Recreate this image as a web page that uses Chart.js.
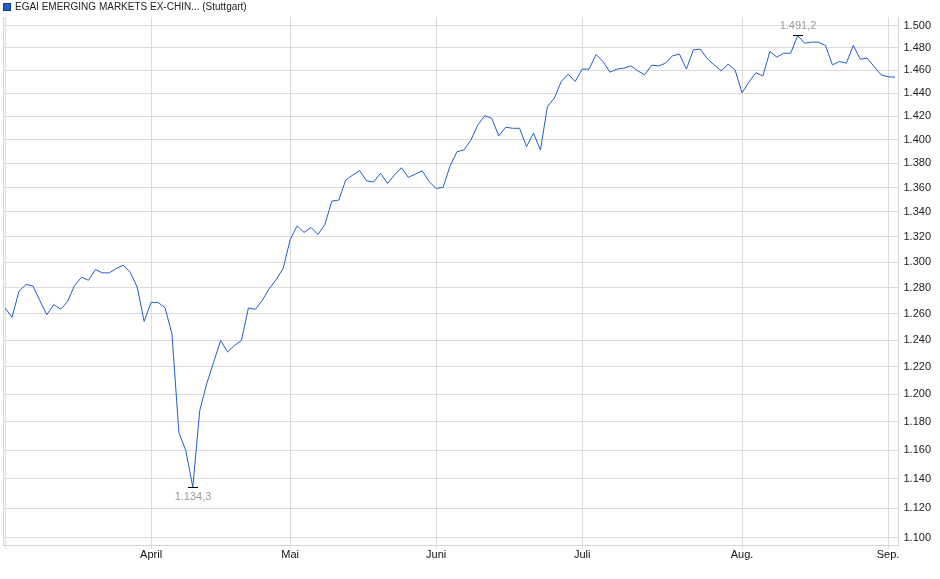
<!DOCTYPE html>
<html>
<head>
<meta charset="utf-8">
<script src="https://cdn.jsdelivr.net/npm/chart.js@4.4.1/dist/chart.umd.min.js"></script>
<style>
html, body { margin: 0; padding: 0; background: #fff; }
#wrap { width: 940px; height: 579px; }
</style>
</head>
<body>
<div id="wrap"><canvas id="kursChart"></canvas></div>
<script>

/* DATEN */

const serienName = "EGAI EMERGING MARKETS EX-CHIN... (Stuttgart)";

// Schlusskurse je Handelstag (Anfang März bis Anfang September)
const kurse = [
    1264.3, 1257.2, 1277.2, 1282.4, 1281.3, 1270.0, 1259.2, 1266.9, 1263.3, 1269.4,
    1281.8, 1288.1, 1285.7, 1294.1, 1291.5, 1291.5, 1294.9, 1297.5, 1291.8, 1280.5,
    1254.1, 1268.6, 1268.6, 1264.6, 1244.8, 1172.4, 1159.7, 1134.3, 1188.2, 1207.6,
    1223.5, 1239.7, 1231.0, 1236.0, 1239.7, 1264.3, 1263.3, 1270.2, 1279.2, 1286.3,
    1294.9, 1317.7, 1328.8, 1323.5, 1327.5, 1321.9, 1329.9, 1348.9, 1349.7, 1366.2,
    1370.3, 1373.9, 1365.6, 1364.5, 1371.8, 1363.4, 1370.3, 1376.4, 1368.4, 1371.1,
    1373.9, 1364.8, 1359.3, 1360.1, 1377.8, 1389.9, 1391.3, 1399.7, 1412.6, 1420.5,
    1418.3, 1403.2, 1410.6, 1409.7, 1409.7, 1394.1, 1405.5, 1391.3, 1428.3, 1435.7,
    1450.2, 1456.7, 1450.2, 1461.1, 1461.1, 1474.1, 1467.9, 1458.4, 1461.1, 1462.0,
    1464.0, 1459.6, 1456.1, 1464.6, 1464.0, 1466.4, 1473.0, 1474.5, 1461.1, 1478.3,
    1478.9, 1470.3, 1464.9, 1459.6, 1465.5, 1460.4, 1440.3, 1449.7, 1458.0, 1455.1,
    1476.8, 1471.8, 1475.3, 1475.3, 1491.2, 1484.3, 1485.2, 1485.2, 1482.2, 1464.9,
    1467.9, 1466.4, 1482.2, 1470.0, 1470.9, 1463.4, 1456.1, 1454.3, 1454.1
];

// erster Handelstag jedes Monats (Index in kurse)
const monatsIndex = [0, 21, 41, 62, 83, 106, 127];
const monatsLabels = ["", "April", "Mai", "Juni", "Juli", "Aug.", "Sep."];

const yTicks = [1100, 1120, 1140, 1160, 1180, 1200, 1220, 1240, 1260, 1280, 1300,
                1320, 1340, 1360, 1380, 1400, 1420, 1440, 1460, 1480, 1500];

const LINIE = "#1f5fc8";
const SCHRIFT = "11px 'Liberation Sans', Arial, sans-serif";

/* FORMAT */

function formatDe(wert, stellen){

    let teile = wert.toFixed(stellen).split(".");

    let ganz = teile[0].replace(/\B(?=(\d{3})+(?!\d))/g, ".");

    return stellen ? ganz + "," + teile[1] : ganz;

}

/* PLUGINS */

// Legende oben links (kleines Kaestchen + Name)
const legende = {

    id: "legende",

    afterDraw(chart){

        const ctx = chart.ctx;

        ctx.save();
        ctx.fillStyle = LINIE;
        ctx.fillRect(3, 3, 8, 8);
        ctx.strokeStyle = "#173f86";
        ctx.lineWidth = 1;
        ctx.strokeRect(3.5, 3.5, 7, 7);

        ctx.font = "10px 'Liberation Sans', Arial, sans-serif";
        ctx.fillStyle = "#222";
        ctx.textAlign = "left";
        ctx.textBaseline = "middle";
        ctx.fillText(serienName, 15, 7);
        ctx.restore();

    }

};

const linkerRand = {

    id: "linkerRand",

    beforeDatasetsDraw(chart){

        const ctx = chart.ctx;
        const area = chart.chartArea;

        ctx.save();
        ctx.strokeStyle = "#d4d4d4";
        ctx.lineWidth = 1;
        ctx.beginPath();
        ctx.moveTo(Math.round(area.left) + 0.5, area.top);
        ctx.lineTo(Math.round(area.left) + 0.5, area.bottom);
        ctx.stroke();
        ctx.restore();

    }

};

const extremwerte = {

    id: "extremwerte",

    afterDatasetsDraw(chart){

        const ctx = chart.ctx;
        const x = chart.scales.x;
        const y = chart.scales.y;

        let iMin = kurse.indexOf(Math.min(...kurse));
        let iMax = kurse.indexOf(Math.max(...kurse));

        ctx.save();
        ctx.font = SCHRIFT;
        ctx.textAlign = "center";
        ctx.lineWidth = 1;

        [[iMin, 1], [iMax, -1]].forEach(([i, richtung]) => {

            let px = Math.round(x.getPixelForValue(i));
            let py = Math.round(y.getPixelForValue(kurse[i])) + 0.5;

            ctx.strokeStyle = "#000";
            ctx.beginPath();
            ctx.moveTo(px - 5, py);
            ctx.lineTo(px + 5, py);
            ctx.stroke();

            ctx.fillStyle = "#9a9a9a";
            ctx.textBaseline = richtung > 0 ? "top" : "bottom";
            ctx.fillText(formatDe(kurse[i], 1), px, py + richtung * 4);

        });

        ctx.restore();

    }

};

/* GRAFICO */

Chart.defaults.font.family = "'Liberation Sans', Arial, sans-serif";
Chart.defaults.font.size = 11;
Chart.defaults.color = "#222";

new Chart(document.getElementById("kursChart"), {

    type: "line",

    data: {

        datasets: [{

            label: serienName,

            data: kurse.map((k, i) => ({ x: i, y: k })),

            borderColor: LINIE,
            backgroundColor: LINIE,
            borderWidth: 1,
            pointRadius: 0,
            tension: 0,
            fill: false

        }]

    },

    options: {

        responsive: true,
        maintainAspectRatio: false,
        animation: false,

        layout: {
            padding: { left: 3, right: 4, top: 17, bottom: 17 }
        },

        plugins: {

            legend: { display: false },

            tooltip: { enabled: false }

        },

        scales: {

            x: {
                type: "linear",
                min: -0.3,
                max: 128.5,
                afterBuildTicks: (scale) => {
                    scale.ticks = monatsIndex.map(v => ({ value: v }));
                },
                ticks: {
                    autoSkip: false,
                    maxRotation: 0,
                    padding: 0,
                    color: "#111",
                    callback: (wert) => monatsLabels[monatsIndex.indexOf(wert)]
                },
                grid: {
                    color: "#dcdcdc",
                    tickLength: 3
                },
                border: { color: "#d4d4d4" }
            },

            y: {
                type: "logarithmic",
                position: "right",
                min: 1094.7,
                max: 1508,
                afterBuildTicks: (scale) => {
                    scale.ticks = yTicks.map(v => ({ value: v }));
                },
                ticks: {
                    autoSkip: false,
                    padding: 5,
                    color: "#222",
                    callback: (wert) => formatDe(wert, 0)
                },
                grid: {
                    color: "#dcdcdc",
                    drawTicks: false
                },
                border: { color: "#d4d4d4" }
            }

        }

    },

    plugins: [legende, linkerRand, extremwerte]

});

</script>
</body>
</html>
